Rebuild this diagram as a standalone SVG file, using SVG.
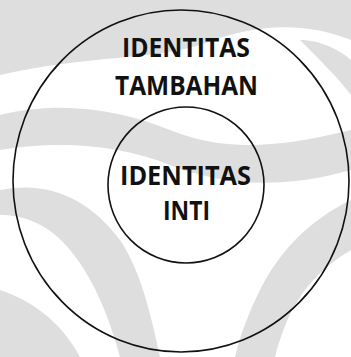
<svg xmlns="http://www.w3.org/2000/svg" width="351" height="357" viewBox="0 0 351 357">
<style>
.ring{fill:none;stroke:#111;stroke-width:1.6}
.lbl{font-family:"Open Sans","Liberation Sans",sans-serif;font-weight:700;font-size:26px;fill:#111;text-anchor:middle}
.wm{fill:#dedede}
</style>
<g id="watermark">
<path class="wm" d="M0,0 H351 V40 C300,20 250,25 200,45 C150,60 90,55 0,75 Z"/>
<path class="wm" d="M0,115 C60,100 120,110 170,130 C220,150 270,150 351,130 V170 C280,190 220,185 170,165 C120,145 60,140 0,150 Z"/>
<path class="wm" d="M0,190 C50,180 90,200 120,240 C140,270 150,310 160,357 H120 C110,320 95,280 70,250 C50,225 25,215 0,215 Z"/>
<path class="wm" d="M351,200 C310,220 280,250 260,290 C250,310 240,335 235,357 H275 C285,320 300,280 351,250 Z"/>
<path class="wm" d="M0,290 C30,300 60,320 80,357 H0 Z"/>
<path class="wm" d="M300,40 C320,60 340,80 351,95 V60 C340,50 320,40 300,40 Z"/>
</g>
<g id="outer">
<ellipse class="ring" cx="181" cy="181" rx="168" ry="171"/>
<text class="lbl" x="186" y="57" textLength="128" lengthAdjust="spacingAndGlyphs">IDENTITAS</text>
<text class="lbl" x="186.5" y="95" textLength="143" lengthAdjust="spacingAndGlyphs">TAMBAHAN</text>
</g>
<g id="inner">
<circle class="ring" cx="186" cy="185" r="78"/>
<text class="lbl" x="185.5" y="185" textLength="131" lengthAdjust="spacingAndGlyphs">IDENTITAS</text>
<text class="lbl" x="186.5" y="220" textLength="47" lengthAdjust="spacingAndGlyphs">INTI</text>
</g>
<g id="connectors"/>
</svg>
